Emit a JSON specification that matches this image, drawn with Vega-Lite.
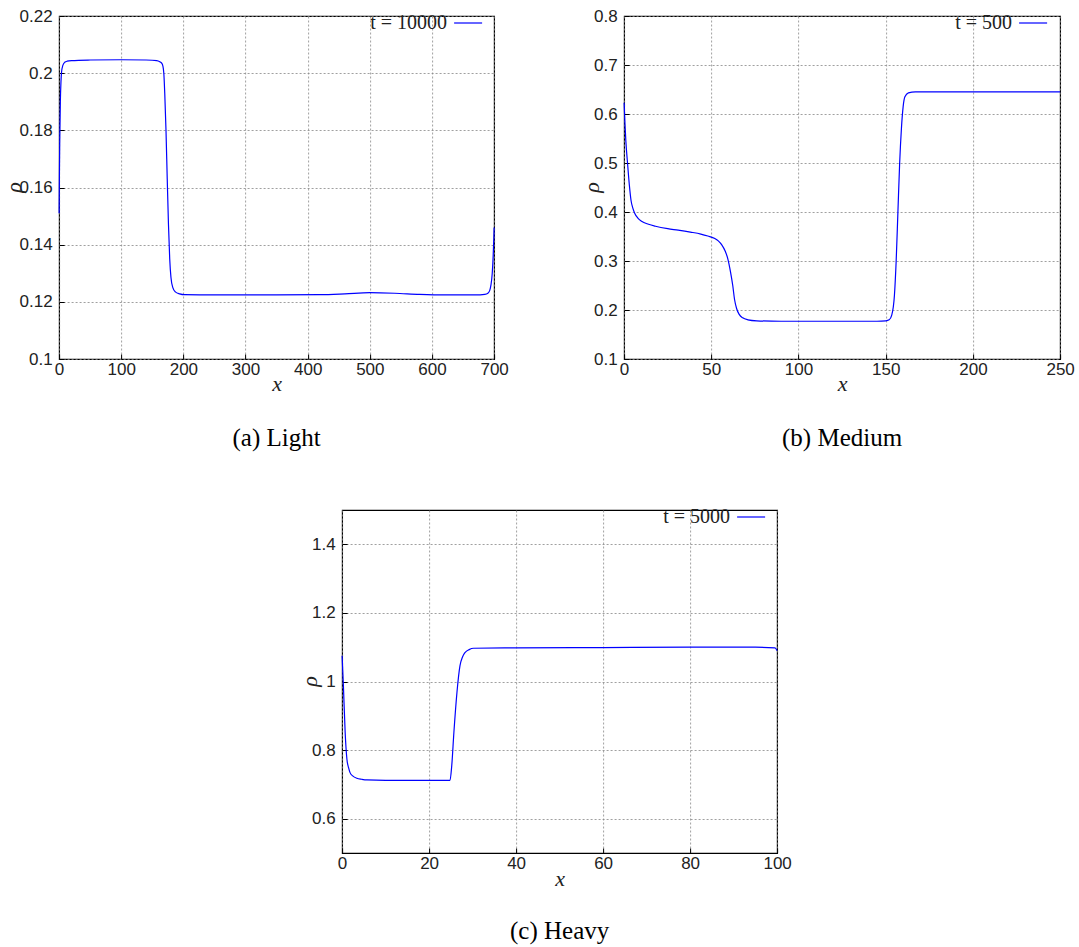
{
  "$schema": "https://vega.github.io/schema/vega-lite/v6.json",
  "background": "white",
  "padding": {"left": 1, "top": 6, "right": 4, "bottom": 4},
  "datasets": {
    "light": [
      {"x": 0, "rho": 0.151}, {"x": 0.5, "rho": 0.165}, {"x": 1, "rho": 0.176}, {"x": 2, "rho": 0.19}, {"x": 3, "rho": 0.197},
      {"x": 4, "rho": 0.2005}, {"x": 6, "rho": 0.2027}, {"x": 9, "rho": 0.2038}, {"x": 13, "rho": 0.2042}, {"x": 20, "rho": 0.2044},
      {"x": 50, "rho": 0.2046}, {"x": 100, "rho": 0.2047}, {"x": 140, "rho": 0.2046}, {"x": 157, "rho": 0.2044}, {"x": 162, "rho": 0.204},
      {"x": 165, "rho": 0.2035}, {"x": 167, "rho": 0.2025}, {"x": 168.5, "rho": 0.2}, {"x": 170, "rho": 0.193}, {"x": 172, "rho": 0.18},
      {"x": 174, "rho": 0.163}, {"x": 176, "rho": 0.147}, {"x": 178, "rho": 0.135}, {"x": 180, "rho": 0.1285}, {"x": 183, "rho": 0.125},
      {"x": 187, "rho": 0.1235}, {"x": 194, "rho": 0.1228}, {"x": 202, "rho": 0.1225}, {"x": 250, "rho": 0.1224}, {"x": 350, "rho": 0.1224},
      {"x": 420, "rho": 0.1225}, {"x": 460, "rho": 0.1228}, {"x": 500, "rho": 0.1232}, {"x": 540, "rho": 0.123}, {"x": 580, "rho": 0.1226},
      {"x": 620, "rho": 0.1224}, {"x": 670, "rho": 0.1224}, {"x": 685, "rho": 0.1226}, {"x": 690, "rho": 0.123}, {"x": 693, "rho": 0.124},
      {"x": 695, "rho": 0.126}, {"x": 697, "rho": 0.13}, {"x": 698.5, "rho": 0.136}, {"x": 699.5, "rho": 0.142}, {"x": 700, "rho": 0.146}
    ],
    "medium": [
      {"x": 0, "rho": 0.623}, {"x": 0.5, "rho": 0.58}, {"x": 1, "rho": 0.545}, {"x": 2, "rho": 0.498}, {"x": 3, "rho": 0.455},
      {"x": 4, "rho": 0.423}, {"x": 5, "rho": 0.408}, {"x": 6, "rho": 0.398}, {"x": 8, "rho": 0.387}, {"x": 10, "rho": 0.381},
      {"x": 14, "rho": 0.375}, {"x": 18, "rho": 0.371}, {"x": 25, "rho": 0.366}, {"x": 31, "rho": 0.363}, {"x": 38, "rho": 0.359},
      {"x": 44, "rho": 0.355}, {"x": 48, "rho": 0.351}, {"x": 52, "rho": 0.346}, {"x": 54, "rho": 0.341}, {"x": 56, "rho": 0.333},
      {"x": 58, "rho": 0.32}, {"x": 59.5, "rho": 0.304}, {"x": 61, "rho": 0.278}, {"x": 62.3, "rho": 0.25}, {"x": 63.3, "rho": 0.222},
      {"x": 64.5, "rho": 0.203}, {"x": 66, "rho": 0.191}, {"x": 68, "rho": 0.184}, {"x": 71, "rho": 0.18}, {"x": 76, "rho": 0.178},
      {"x": 90, "rho": 0.177}, {"x": 120, "rho": 0.177}, {"x": 145, "rho": 0.177}, {"x": 150, "rho": 0.178}, {"x": 152, "rho": 0.18},
      {"x": 153.5, "rho": 0.19}, {"x": 155, "rho": 0.23}, {"x": 156, "rho": 0.3}, {"x": 157, "rho": 0.4}, {"x": 158, "rho": 0.5},
      {"x": 159, "rho": 0.57}, {"x": 160, "rho": 0.615}, {"x": 161, "rho": 0.635}, {"x": 163, "rho": 0.643}, {"x": 167, "rho": 0.645},
      {"x": 200, "rho": 0.645}, {"x": 250, "rho": 0.645}
    ],
    "heavy": [
      {"x": 0, "rho": 1.075}, {"x": 0.3, "rho": 0.987}, {"x": 0.7, "rho": 0.852}, {"x": 1.1, "rho": 0.774}, {"x": 1.5, "rho": 0.748},
      {"x": 1.8, "rho": 0.735}, {"x": 2.5, "rho": 0.724}, {"x": 3.4, "rho": 0.718}, {"x": 4.5, "rho": 0.715}, {"x": 5.7, "rho": 0.713},
      {"x": 10, "rho": 0.712}, {"x": 20, "rho": 0.712}, {"x": 24.8, "rho": 0.712}, {"x": 25.2, "rho": 0.754}, {"x": 25.7, "rho": 0.852},
      {"x": 26.4, "rho": 0.968}, {"x": 27.1, "rho": 1.046}, {"x": 27.7, "rho": 1.072}, {"x": 28.3, "rho": 1.085}, {"x": 29.2, "rho": 1.093},
      {"x": 30.2, "rho": 1.097}, {"x": 40, "rho": 1.098}, {"x": 60, "rho": 1.099}, {"x": 80, "rho": 1.1}, {"x": 95, "rho": 1.1},
      {"x": 99.5, "rho": 1.098}, {"x": 100, "rho": 1.09}
    ]
  },
  "config": {
    "view": {"stroke": "black", "strokeWidth": 1.2},
    "axis": {
      "grid": true, "gridColor": "#888", "gridDash": [2, 2], "gridWidth": 0.8,
      "domain": false, "ticks": true, "tickSize": -5, "tickColor": "black", "tickWidth": 1,
      "labelFont": "Liberation Sans", "labelFontSize": 17, "labelColor": "#222",
      "labelFlush": false, "labelOverlap": false,
      "titleFont": "Liberation Serif", "titleFontStyle": "italic", "titleFontWeight": "normal",
      "titleFontSize": 22, "titleColor": "#222"
    },
    "axisX": {"labelPadding": 7},
    "axisY": {"labelPadding": 12},
    "legend": {
      "orient": "none", "legendX": 394, "legendY": -8, "padding": 0,
      "symbolType": "stroke", "symbolSize": 784, "symbolStrokeWidth": 1.3,
      "labelFont": "Liberation Serif", "labelFontSize": 20, "labelColor": "#222",
      "labelAlign": "right", "labelOffset": -36
    },
    "title": {"orient": "bottom", "font": "Liberation Serif", "fontSize": 25, "fontWeight": "normal", "color": "black", "anchor": "middle", "frame": "group", "offset": 32},
    "line": {"strokeWidth": 1.2, "interpolate": "monotone"}
  },
  "center": true,
  "spacing": 49,
  "resolve": {"scale": {"color": "independent"}, "legend": {"color": "independent"}},
  "vconcat": [
    {
      "hconcat": [
        {
          "title": "(a) Light",
          "width": 435, "height": 343,
          "data": {"name": "light"},
          "mark": "line",
          "encoding": {
            "x": {"field": "x", "type": "quantitative", "title": "x",
                  "scale": {"domain": [0, 700], "nice": false, "zero": false},
                  "axis": {"values": [0, 100, 200, 300, 400, 500, 600, 700], "titleY": 24, "titleBaseline": "middle"}},
            "y": {"field": "rho", "type": "quantitative", "title": "ρ",
                  "scale": {"domain": [0.1, 0.22], "nice": false, "zero": false},
                  "axis": {"values": [0.1, 0.12, 0.14, 0.16, 0.18, 0.2, 0.22], "format": ".2~f", "titleX": -46, "titleY": 171, "titleAngle": -90, "titleBaseline": "middle"}},
            "color": {"datum": "t = 10000", "type": "nominal", "scale": {"range": ["#0000ff"]}, "legend": {"title": null}}
          }
        },
        {
          "title": "(b) Medium",
          "width": 436, "height": 343,
          "data": {"name": "medium"},
          "mark": "line",
          "encoding": {
            "x": {"field": "x", "type": "quantitative", "title": "x",
                  "scale": {"domain": [0, 250], "nice": false, "zero": false},
                  "axis": {"values": [0, 50, 100, 150, 200, 250], "titleY": 24, "titleBaseline": "middle"}},
            "y": {"field": "rho", "type": "quantitative", "title": "ρ",
                  "scale": {"domain": [0.1, 0.8], "nice": false, "zero": false},
                  "axis": {"values": [0.1, 0.2, 0.3, 0.4, 0.5, 0.6, 0.7, 0.8], "format": ".1~f", "titleX": -33, "titleY": 171, "titleAngle": -90, "titleBaseline": "middle"}},
            "color": {"datum": "t = 500", "type": "nominal", "scale": {"range": ["#0000ff"]}, "legend": {"title": null}}
          }
        }
      ],
      "spacing": 70,
      "resolve": {"scale": {"color": "independent"}, "legend": {"color": "independent"}}
    },
    {
      "title": {"text": "(c) Heavy", "offset": 30},
      "width": 435, "height": 343,
      "data": {"name": "heavy"},
      "mark": "line",
      "encoding": {
        "x": {"field": "x", "type": "quantitative", "title": "x",
              "scale": {"domain": [0, 100], "nice": false, "zero": false},
              "axis": {"values": [0, 20, 40, 60, 80, 100], "titleY": 25, "titleBaseline": "middle"}},
        "y": {"field": "rho", "type": "quantitative", "title": "ρ",
              "scale": {"domain": [0.5, 1.5], "nice": false, "zero": false},
              "axis": {"values": [0.6, 0.8, 1, 1.2, 1.4], "format": ".1~f", "titleX": -33, "titleY": 171, "titleAngle": -90, "titleBaseline": "middle"}},
        "color": {"datum": "t = 5000", "type": "nominal", "scale": {"range": ["#0000ff"]}, "legend": {"title": null}}
      }
    }
  ]
}
